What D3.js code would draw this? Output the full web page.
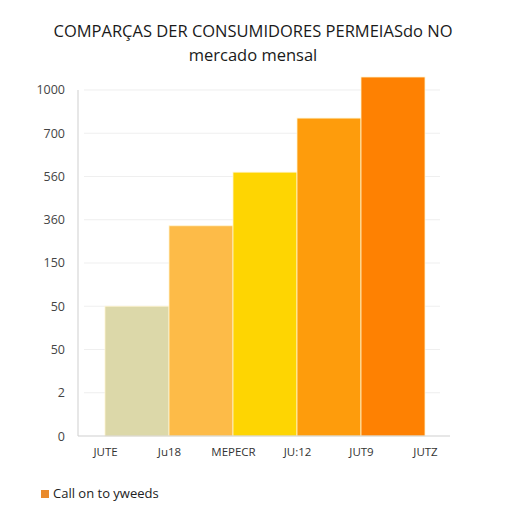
<!DOCTYPE html>
<html>
<head>
<meta charset="utf-8">
<script src="https://cdn.jsdelivr.net/npm/d3@7"></script>
<style>
  body { margin: 0; background: #fff; }
  svg { font-family: "Open Sans", "Noto Sans", sans-serif; }
</style>
</head>
<body>
<svg id="chart" width="512" height="512"></svg>
<script>
// tick labels on the y axis sit at evenly spaced slots (0..8)
const yTickLabels = ['0', '2', '50', '50', '150', '360', '560', '700', '1000'];
// x labels sit on the bar edges
const xLabels = ['JUTE', 'Ju18', 'MEPECR', 'JU:12', 'JUT9', 'JUTZ'];
// bar heights, in y slot units
const barValues = [3.0, 4.86, 6.1, 7.35, 8.3];
const barColors = ['#dcd8a9', '#fdbb48', '#fed502', '#fe9c0c', '#fe8102'];
const titleLines = ['COMPARÇAS DER CONSUMIDORES PERMEIASdo NO', 'mercado mensal'];
const legendLabel = 'Call on to yweeds';
const legendColor = '#e98a2c';

const svg = d3.select('#chart');
const margin = {top: 77, right: 62, bottom: 76, left: 78};
const width = 512 - margin.left - margin.right;
const height = 512 - margin.top - margin.bottom;

const x = d3.scalePoint().domain(xLabels).range([27, 347]);
const y = d3.scaleLinear().domain([0, 8.3]).range([height, 0]);

const g = svg.append('g')
  .attr('transform', 'translate(' + margin.left + ',' + margin.top + ')');

// title
svg.append('g').selectAll('text')
  .data(titleLines)
  .enter().append('text')
  .attr('x', 253)
  .attr('y', (d, i) => 37 + i * 24)
  .attr('text-anchor', 'middle')
  .attr('font-size', 16.5)
  .attr('fill', '#1a1a1a')
  .text(d => d);

// grid
g.append('g')
  .selectAll('line')
  .data(d3.range(1, yTickLabels.length))
  .enter().append('line')
  .attr('x1', 6)
  .attr('x2', 362)
  .attr('y1', d => y(d))
  .attr('y2', d => y(d))
  .attr('stroke', '#efefef');

// y axis
const yAxis = g.append('g')
  .attr('class', 'axis axis--y')
  .call(d3.axisLeft(y)
    .tickValues(d3.range(yTickLabels.length))
    .tickFormat(i => yTickLabels[i])
    .tickSize(0)
    .tickPadding(13));
yAxis.select('.domain').attr('stroke', '#cfcfcf').attr('d', 'M0,' + y(8.3 - 0.3) + 'V' + height);
yAxis.selectAll('text').attr('font-size', 12.5).attr('fill', '#444').attr('font-family', 'Open Sans, sans-serif');

// bars
g.selectAll('.bar')
  .data(barValues)
  .enter().append('rect')
  .attr('class', 'bar')
  .attr('x', (d, i) => x(xLabels[i]))
  .attr('y', d => y(d))
  .attr('width', (d, i) => x(xLabels[i + 1]) - x(xLabels[i]))
  .attr('height', d => height - y(d))
  .attr('fill', (d, i) => barColors[i])
  .attr('stroke', '#fff4d0')
  .attr('stroke-width', 0.8);

// x axis
const xAxis = g.append('g')
  .attr('class', 'axis axis--x')
  .attr('transform', 'translate(0,' + height + ')')
  .call(d3.axisBottom(x).tickSize(0).tickPadding(12));
xAxis.select('.domain').attr('stroke', '#cfcfcf').attr('d', 'M0,0H372');
xAxis.selectAll('text').attr('font-size', 11.5).attr('fill', '#333').attr('font-family', 'Open Sans, sans-serif');

// legend
const legend = svg.append('g').attr('transform', 'translate(41,490)');
legend.append('rect').attr('width', 8).attr('height', 8).attr('fill', legendColor);
legend.append('text')
  .attr('x', 12)
  .attr('y', 8)
  .attr('font-size', 13)
  .attr('fill', '#222')
  .text(legendLabel);
</script>
</body>
</html>
